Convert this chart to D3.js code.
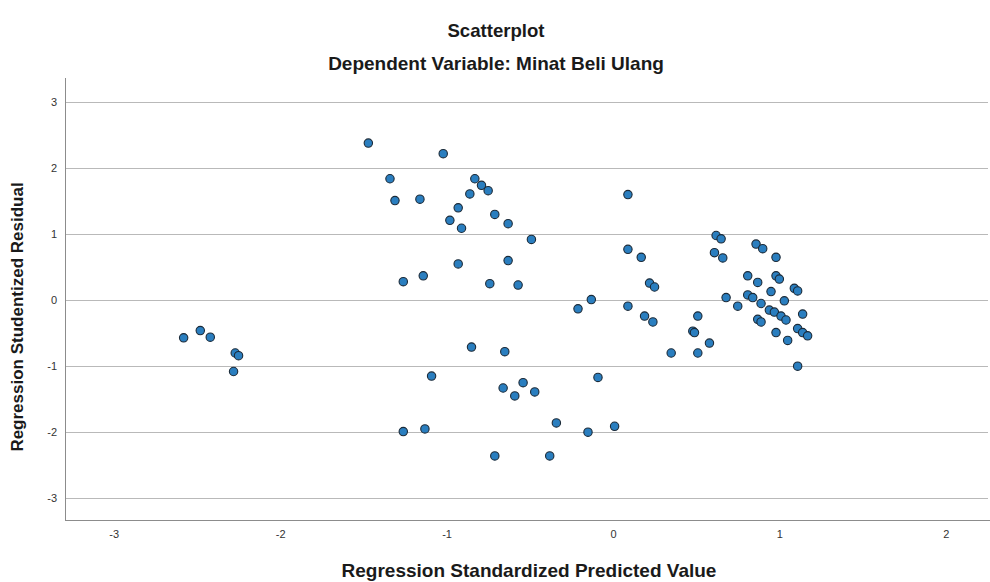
<!DOCTYPE html>
<html>
<head>
<meta charset="utf-8">
<script src="https://cdn.jsdelivr.net/npm/d3@7"></script>
<style>
  html, body { margin: 0; padding: 0; background: #ffffff; }
  svg { display: block; font-family: "Liberation Sans", Arial, sans-serif; }
</style>
</head>
<body>
<svg id="chart" width="990" height="582"></svg>
<script>
// ---- data ----
const titleText = "Scatterplot";
const subtitleText = "Dependent Variable: Minat Beli Ulang";
const xAxisTitle = "Regression Standardized Predicted Value";
const yAxisTitle = "Regression Studentized Residual";
const xTicks = [-3, -2, -1, 0, 1, 2];
const yTicks = [-3, -2, -1, 0, 1, 2, 3];

const predicted = [
  -2.58, -2.48, -2.42, -2.27, -2.25, -2.28,
  -1.47, -1.02, -1.34, -0.83, -0.79, -0.75, -0.86, -1.31, -1.16, -0.93, -0.98, -0.91,
  -0.71, -0.63, -0.49, -0.93, -0.63, -1.26, -1.14, -0.74, -0.57,
  -0.85, -0.65, -1.09, -0.66, -0.54, -0.59, -0.47, -0.09, -0.34, -1.26, -1.13, -0.15, 0.01, -0.71, -0.38,
  0.09, 0.62, 0.65, 0.09, 0.17, 0.61, 0.66, 0.22, 0.25, -0.13, -0.21, 0.09, 0.68, 0.75,
  0.19, 0.24, 0.51, 0.48, 0.49, 0.58, 0.35, 0.51,
  0.86, 0.90, 0.98, 0.81, 0.87, 0.98, 1.00, 1.09, 1.11, 0.81, 0.84, 0.95, 1.03, 0.89,
  0.94, 0.97, 1.01, 1.04, 1.14, 0.87, 0.89, 0.98, 1.11, 1.14, 1.17, 1.05, 1.11
];
const residual = [
  -0.58, -0.47, -0.57, -0.81, -0.85, -1.09,
  2.37, 2.21, 1.83, 1.83, 1.73, 1.65, 1.60, 1.50, 1.52, 1.39, 1.20, 1.08,
  1.29, 1.15, 0.91, 0.54, 0.59, 0.27, 0.36, 0.24, 0.22,
  -0.72, -0.79, -1.16, -1.34, -1.26, -1.46, -1.40, -1.18, -1.87, -2.00, -1.96, -2.01, -1.92, -2.37, -2.37,
  1.59, 0.97, 0.92, 0.76, 0.64, 0.71, 0.63, 0.25, 0.19, 0.00, -0.14, -0.10, 0.03, -0.10,
  -0.25, -0.34, -0.25, -0.48, -0.50, -0.66, -0.81, -0.81,
  0.84, 0.77, 0.64, 0.36, 0.26, 0.36, 0.31, 0.17, 0.13, 0.07, 0.03, 0.12, -0.02, -0.06,
  -0.16, -0.19, -0.25, -0.31, -0.22, -0.30, -0.34, -0.50, -0.44, -0.50, -0.55, -0.62, -1.01
];

// ---- layout ----
const plot = { left: 65, right: 990, top: 80, bottom: 520 };
const svg = d3.select("#chart");

const x = d3.scaleLinear().domain([-3.293, 2.266]).range([plot.left, plot.right]);
const y = d3.scaleLinear().domain([-3.34, 3.326]).range([plot.bottom, plot.top]);
const fmt = d => String(d); // plain hyphen-minus like the original

// titles
svg.append("text").attr("x", 496).attr("y", 37).attr("text-anchor", "middle")
  .attr("font-size", 18.6).attr("font-weight", "bold").attr("fill", "#1a1a1a").text(titleText);
svg.append("text").attr("x", 496).attr("y", 70).attr("text-anchor", "middle")
  .attr("font-size", 19).attr("font-weight", "bold").attr("fill", "#1a1a1a").text(subtitleText);

// horizontal grid lines
svg.append("g").selectAll("line").data(yTicks).join("line")
  .attr("x1", plot.left).attr("x2", 988)
  .attr("y1", d => Math.round(y(d)) + 0.5).attr("y2", d => Math.round(y(d)) + 0.5)
  .attr("stroke", "#b9b9b9").attr("stroke-width", 1);

// y axis
const yAxis = d3.axisLeft(y).tickValues(yTicks).tickSize(0).tickPadding(8).tickFormat(fmt);
const gy = svg.append("g").attr("transform", `translate(${plot.left},0)`).call(yAxis);
gy.select(".domain").remove();
gy.selectAll("text").attr("font-size", 11).attr("fill", "#333")
  .attr("font-family", "'Liberation Sans', Arial, sans-serif");

// x axis
const xAxis = d3.axisBottom(x).tickValues(xTicks).tickSize(0).tickPadding(10).tickFormat(fmt);
const gx = svg.append("g").attr("transform", `translate(0,${plot.bottom})`).call(xAxis);
gx.select(".domain").remove();
gx.selectAll("text").attr("font-size", 11).attr("fill", "#333")
  .attr("font-family", "'Liberation Sans', Arial, sans-serif");

// axis lines
svg.append("line").attr("x1", plot.left + 0.5).attr("x2", plot.left + 0.5)
  .attr("y1", 78).attr("y2", plot.bottom).attr("stroke", "#8c8c8c");
svg.append("line").attr("x1", plot.left).attr("x2", 990)
  .attr("y1", plot.bottom + 0.5).attr("y2", plot.bottom + 0.5).attr("stroke", "#8c8c8c");

// axis titles
svg.append("text").attr("x", 529).attr("y", 577).attr("text-anchor", "middle")
  .attr("font-size", 19).attr("font-weight", "bold").attr("fill", "#1a1a1a").text(xAxisTitle);
svg.append("text").attr("transform", "translate(23,317) rotate(-90)").attr("text-anchor", "middle")
  .attr("font-size", 17).attr("font-weight", "bold").attr("fill", "#1a1a1a").text(yAxisTitle);

// points
const pts = predicted.map((p, i) => ({ p, r: residual[i] }));
svg.append("g").selectAll("circle").data(pts).join("circle")
  .attr("cx", d => x(d.p)).attr("cy", d => y(d.r)).attr("r", 4.2)
  .attr("fill", "#2a7ebf").attr("stroke", "#1b2a38").attr("stroke-width", 1.1);
</script>
</body>
</html>
